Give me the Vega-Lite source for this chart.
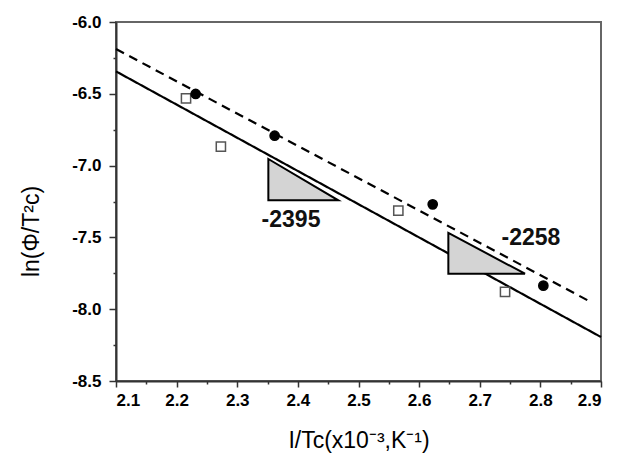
{
  "$schema": "https://vega.github.io/schema/vega-lite/v6.json",
  "width": 485,
  "height": 359,
  "autosize": {"type": "none"},
  "padding": {"left": 116, "top": 22, "right": 19, "bottom": 83},
  "background": "white",
  "config": {
    "font": "Liberation Sans",
    "view": {"stroke": "#666", "strokeWidth": 2},
    "axis": {
      "grid": false,
      "domainColor": "#333",
      "domainWidth": 2,
      "tickColor": "#333",
      "tickWidth": 1.5,
      "labelColor": "#000",
      "labelFont": "Liberation Sans",
      "labelFontWeight": "bold",
      "labelFontSize": 17,
      "titleFont": "Liberation Sans",
      "titleFontWeight": "normal",
      "titleFontSize": 23,
      "titleColor": "#000"
    },
    "legend": {
      "labelFont": "Liberation Sans",
      "labelFontSize": 21,
      "labelColor": "#000",
      "labelOffset": 18,
      "symbolSize": 85,
      "symbolStrokeWidth": 1.5,
      "symbolOffset": 6,
      "rowPadding": 5,
      "padding": 8,
      "strokeColor": "#000",
      "fillColor": "#fff"
    }
  },
  "datasets": {
    "points": [
      {"steel": "430 STS", "invT": 2.2155, "lnPhi": -6.532},
      {"steel": "430 STS", "invT": 2.273, "lnPhi": -6.868},
      {"steel": "430 STS", "invT": 2.5657, "lnPhi": -7.314},
      {"steel": "430 STS", "invT": 2.7417, "lnPhi": -7.88},
      {"steel": "445NF STS", "invT": 2.2314, "lnPhi": -6.501},
      {"steel": "445NF STS", "invT": 2.3617, "lnPhi": -6.792},
      {"steel": "445NF STS", "invT": 2.6224, "lnPhi": -7.27},
      {"steel": "445NF STS", "invT": 2.8049, "lnPhi": -7.836}
    ],
    "fits": [
      {"steel": "430 STS", "invT": 2.1, "lnPhi": -6.344},
      {"steel": "430 STS", "invT": 2.9, "lnPhi": -8.194},
      {"steel": "445NF STS", "invT": 2.1, "lnPhi": -6.188},
      {"steel": "445NF STS", "invT": 2.885, "lnPhi": -7.954}
    ],
    "slopes": [
      {"tri": "430", "invT": 2.3513, "lnPhi": -6.954, "base": -7.242},
      {"tri": "430", "invT": 2.4667, "lnPhi": -7.242, "base": -7.242},
      {"tri": "445NF", "invT": 2.6482, "lnPhi": -7.469, "base": -7.753},
      {"tri": "445NF", "invT": 2.7746, "lnPhi": -7.753, "base": -7.753}
    ],
    "slopeLabels": [
      {"label": "-2395", "invT": 2.3887, "lnPhi": -7.377},
      {"label": "-2258", "invT": 2.7845, "lnPhi": -7.506}
    ]
  },
  "encoding": {
    "x": {
      "field": "invT", "type": "quantitative",
      "scale": {"domain": [2.1, 2.9], "nice": false, "zero": false},
      "axis": {
        "orient": "bottom",
        "values": [2.1, 2.15, 2.2, 2.25, 2.3, 2.35, 2.4, 2.45, 2.5, 2.55, 2.6, 2.65, 2.7, 2.75, 2.8, 2.85, 2.9],
        "labelExpr": "abs(datum.value * 10 - round(datum.value * 10)) < 0.01 ? format(datum.value, '.1f') : ''",
        "tickSize": {"condition": {"test": "abs(datum.value * 10 - round(datum.value * 10)) < 0.01", "value": 6}, "value": 3},
        "labelPadding": 5,
        "titlePadding": 21,
        "title": "I/Tc(x10⁻³,K⁻¹)"
      }
    },
    "y": {
      "field": "lnPhi", "type": "quantitative",
      "scale": {"domain": [-8.5, -6.0], "nice": false, "zero": false},
      "axis": {
        "orient": "left",
        "values": [-8.5, -8.25, -8.0, -7.75, -7.5, -7.25, -7.0, -6.75, -6.5, -6.25, -6.0],
        "labelExpr": "abs(datum.value * 2 - round(datum.value * 2)) < 0.01 ? replace(format(datum.value, '.1f'), '−', '-') : ''",
        "tickSize": {"condition": {"test": "abs(datum.value * 2 - round(datum.value * 2)) < 0.01", "value": 7}, "value": 3},
        "labelPadding": 8,
        "titlePadding": 28,
        "titleY": 209,
        "title": "ln(Φ/T²c)"
      }
    }
  },
  "layer": [
    {
      "data": {"name": "fits"},
      "mark": {"type": "line", "color": "#000", "strokeWidth": 2.2},
      "encoding": {
        "detail": {"field": "steel", "type": "nominal"},
        "strokeDash": {
          "field": "steel", "type": "nominal",
          "scale": {"domain": ["430 STS", "445NF STS"], "range": [[1, 0], [9, 6]]},
          "legend": null
        }
      }
    },
    {
      "data": {"name": "slopes"},
      "mark": {"type": "area", "fill": "#d4d4d4", "fillOpacity": 1, "stroke": "#000", "strokeWidth": 2},
      "encoding": {
        "y2": {"field": "base"},
        "detail": {"field": "tri", "type": "nominal"}
      }
    },
    {
      "data": {"name": "points"},
      "mark": {"type": "point", "filled": true, "size": 85, "strokeWidth": 1.5, "opacity": 1},
      "encoding": {
        "shape": {
          "field": "steel", "type": "nominal",
          "scale": {"domain": ["430 STS", "445NF STS"], "range": ["square", "circle"]},
          "legend": {"orient": "none", "legendX": 39, "legendY": 267, "title": null}
        },
        "fill": {
          "field": "steel", "type": "nominal",
          "scale": {"domain": ["430 STS", "445NF STS"], "range": ["#ffffff", "#000000"]},
          "legend": {"orient": "none", "legendX": 39, "legendY": 267, "title": null}
        },
        "stroke": {
          "field": "steel", "type": "nominal",
          "scale": {"domain": ["430 STS", "445NF STS"], "range": ["#555555", "#000000"]},
          "legend": {"orient": "none", "legendX": 39, "legendY": 267, "title": null}
        }
      }
    },
    {
      "data": {"name": "slopeLabels"},
      "mark": {"type": "text", "font": "Liberation Sans", "fontSize": 23, "fontWeight": "bold", "color": "#111", "align": "center", "baseline": "middle"},
      "encoding": {
        "text": {"field": "label", "type": "nominal"}
      }
    }
  ]
}
